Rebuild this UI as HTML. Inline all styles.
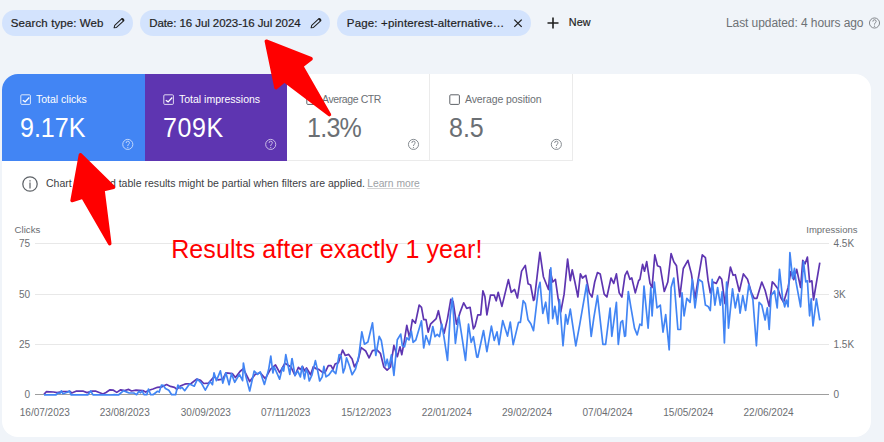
<!DOCTYPE html>
<html><head><meta charset="utf-8">
<style>
*{margin:0;padding:0;box-sizing:border-box}
html,body{width:884px;height:442px;overflow:hidden;background:#f0f4f9;font-family:"Liberation Sans",sans-serif;position:relative}
.t{position:absolute;white-space:nowrap;line-height:1}
.chip{position:absolute;top:10px;height:26px;border-radius:13px;background:#d3e3fd}
.card{position:absolute;left:1.5px;top:73.5px;width:869.5px;height:363.5px;background:#fff;border-radius:16px;overflow:hidden}
.tile{position:absolute;top:0;height:87.5px}
.cb{position:absolute;width:10px;height:10px;border:1px solid;border-radius:1.5px}
.val{position:absolute;font-size:27.5px;transform:scaleX(0.91);transform-origin:0 0;line-height:1;white-space:nowrap}
.lab{position:absolute;font-size:10.5px;line-height:1;white-space:nowrap}
.help{position:absolute;width:12px;height:12px}
.axl{position:absolute;font-size:10px;line-height:1;color:#6b6e72;white-space:nowrap}
</style></head><body>

<!-- chips -->
<div class="chip" style="left:2px;width:131px"></div>
<div class="t" style="left:10.8px;top:18px;font-size:11.5px;color:#1f1f1f;letter-spacing:0.1px;-webkit-text-stroke:0.2px #1f1f1f">Search type: Web</div>
<svg style="position:absolute;left:108px;top:12px" width="22" height="22" viewBox="0 0 22 22"><path d="M6.1 15.8 L6.7 13.4 L13.9 6.6 L15.9 8.7 L8.5 15.4 Z" fill="none" stroke="#1f1f1f" stroke-width="1.05" stroke-linejoin="round"/><path d="M13.3 7.2 L14.2 6.3 Q14.8 5.9 15.4 6.4 L16.1 7.2 Q16.5 7.8 16 8.4 L15.1 9.3 Z" fill="#1f1f1f"/></svg>

<div class="chip" style="left:140px;width:190px"></div>
<div class="t" style="left:149.2px;top:18px;font-size:11.5px;color:#1f1f1f;letter-spacing:-0.07px;-webkit-text-stroke:0.2px #1f1f1f">Date: 16 Jul 2023-16 Jul 2024</div>
<svg style="position:absolute;left:305px;top:12px" width="22" height="22" viewBox="0 0 22 22"><path d="M6.1 15.8 L6.7 13.4 L13.9 6.6 L15.9 8.7 L8.5 15.4 Z" fill="none" stroke="#1f1f1f" stroke-width="1.05" stroke-linejoin="round"/><path d="M13.3 7.2 L14.2 6.3 Q14.8 5.9 15.4 6.4 L16.1 7.2 Q16.5 7.8 16 8.4 L15.1 9.3 Z" fill="#1f1f1f"/></svg>

<div class="chip" style="left:337px;width:194px"></div>
<div class="t" style="left:346.8px;top:18px;font-size:11.5px;color:#1f1f1f;letter-spacing:0.18px;-webkit-text-stroke:0.2px #1f1f1f">Page: +pinterest-alternative…</div>
<svg style="position:absolute;left:507px;top:12px" width="22" height="22" viewBox="0 0 22 22"><path d="M7.3 7.6 L14.7 14.9 M14.7 7.6 L7.3 14.9" stroke="#1f1f1f" stroke-width="1.3"/></svg>

<svg style="position:absolute;left:547px;top:17px" width="12" height="12" viewBox="0 0 12 12"><path d="M6 0.5 V11.5 M0.5 6 H11.5" stroke="#1f1f1f" stroke-width="1.6"/></svg>
<div class="t" style="left:568.7px;top:17px;font-size:10.8px;color:#1f1f1f;-webkit-text-stroke:0.2px #1f1f1f;letter-spacing:0.15px">New</div>

<div class="t" style="left:726px;top:17px;font-size:12px;color:#6d7175;letter-spacing:-0.08px">Last updated: 4 hours ago</div>
<svg style="position:absolute;left:867px;top:16px" width="14" height="14" opacity="1"><g transform="translate(1.50 1.00)"><circle cx="6" cy="6" r="5.05" fill="none" stroke="#7d8186" stroke-width="0.95"/><path d="M4.35 4.6 Q4.35 2.75 6 2.75 Q7.65 2.75 7.65 4.4 Q7.65 5.35 6.65 5.95 Q6 6.35 6 7.6" fill="none" stroke="#7d8186" stroke-width="0.95"/><circle cx="6" cy="9.15" r="0.62" fill="#7d8186"/></g></svg>

<!-- card -->
<div class="card">
  <div class="tile" style="left:0;width:143px;background:#4285f4"></div>
  <div class="tile" style="left:143px;width:142px;background:#5e35b1"></div>
  <div class="tile" style="left:285px;width:143px;border-right:1px solid #ebebeb;border-bottom:1px solid #ebebeb"></div>
  <div class="tile" style="left:428px;width:143px;border-right:1px solid #ebebeb;border-bottom:1px solid #ebebeb"></div>
</div>

<!-- tile contents (page coords) -->
<svg style="position:absolute;left:20px;top:94px" width="12" height="12" viewBox="0 0 12 12"><rect x="0.8" y="0.8" width="9.6" height="9.6" rx="1" fill="none" stroke="#fff" stroke-width="1" opacity="0.8"/><path d="M2.8 6.3 L5.1 7.9 L9.3 3.5" fill="none" stroke="#fff" stroke-width="1.3"/></svg>
<div class="lab" style="left:36px;top:93.5px;color:#fff">Total clicks</div>
<div class="val" style="left:20px;top:113.5px;color:#fff">9.17K</div>

<svg style="position:absolute;left:163px;top:94px" width="12" height="12" viewBox="0 0 12 12"><rect x="0.8" y="0.8" width="9.6" height="9.6" rx="1" fill="none" stroke="#fff" stroke-width="1" opacity="0.8"/><path d="M2.8 6.3 L5.1 7.9 L9.3 3.5" fill="none" stroke="#fff" stroke-width="1.3"/></svg>
<div class="lab" style="left:179px;top:93.5px;color:#fff">Total impressions</div>
<div class="val" style="left:163px;top:113.5px;color:#fff;letter-spacing:0.6px">709K</div>

<svg style="position:absolute;left:306px;top:94px" width="12" height="12" viewBox="0 0 12 12"><rect x="0.8" y="0.8" width="9.6" height="9.6" rx="1" fill="none" stroke="#5f6368" stroke-width="1"/></svg>
<div class="lab" style="left:322px;top:93.5px;color:#6b6f74;letter-spacing:-0.4px">Average CTR</div>
<div class="val" style="left:306.5px;top:113.5px;color:#6b6f74;letter-spacing:-0.8px">1.3%</div>

<svg style="position:absolute;left:449px;top:94px" width="12" height="12" viewBox="0 0 12 12"><rect x="0.8" y="0.8" width="9.6" height="9.6" rx="1" fill="none" stroke="#5f6368" stroke-width="1"/></svg>
<div class="lab" style="left:465px;top:93.5px;color:#6b6f74;letter-spacing:-0.1px">Average position</div>
<div class="val" style="left:449px;top:113.5px;color:#6b6f74">8.5</div>

<svg style="position:absolute;left:120px;top:137px" width="14" height="14" opacity="0.7"><g transform="translate(1.80 1.40)"><circle cx="6" cy="6" r="5.05" fill="none" stroke="#fff" stroke-width="0.95"/><path d="M4.35 4.6 Q4.35 2.75 6 2.75 Q7.65 2.75 7.65 4.4 Q7.65 5.35 6.65 5.95 Q6 6.35 6 7.6" fill="none" stroke="#fff" stroke-width="0.95"/><circle cx="6" cy="9.15" r="0.62" fill="#fff"/></g></svg>
<svg style="position:absolute;left:263px;top:137px" width="14" height="14" opacity="0.7"><g transform="translate(1.70 1.40)"><circle cx="6" cy="6" r="5.05" fill="none" stroke="#fff" stroke-width="0.95"/><path d="M4.35 4.6 Q4.35 2.75 6 2.75 Q7.65 2.75 7.65 4.4 Q7.65 5.35 6.65 5.95 Q6 6.35 6 7.6" fill="none" stroke="#fff" stroke-width="0.95"/><circle cx="6" cy="9.15" r="0.62" fill="#fff"/></g></svg>
<svg style="position:absolute;left:406px;top:137px" width="14" height="14" opacity="1"><g transform="translate(1.50 1.40)"><circle cx="6" cy="6" r="5.05" fill="none" stroke="#80868b" stroke-width="0.95"/><path d="M4.35 4.6 Q4.35 2.75 6 2.75 Q7.65 2.75 7.65 4.4 Q7.65 5.35 6.65 5.95 Q6 6.35 6 7.6" fill="none" stroke="#80868b" stroke-width="0.95"/><circle cx="6" cy="9.15" r="0.62" fill="#80868b"/></g></svg>
<svg style="position:absolute;left:549px;top:137px" width="14" height="14" opacity="1"><g transform="translate(1.35 1.40)"><circle cx="6" cy="6" r="5.05" fill="none" stroke="#80868b" stroke-width="0.95"/><path d="M4.35 4.6 Q4.35 2.75 6 2.75 Q7.65 2.75 7.65 4.4 Q7.65 5.35 6.65 5.95 Q6 6.35 6 7.6" fill="none" stroke="#80868b" stroke-width="0.95"/><circle cx="6" cy="9.15" r="0.62" fill="#80868b"/></g></svg>

<!-- info row -->
<svg style="position:absolute;left:22px;top:175.5px" width="16" height="16" viewBox="0 0 16 16"><circle cx="8" cy="8" r="7.2" fill="none" stroke="#5f6368" stroke-width="1.25"/><rect x="7.4" y="6.5" width="1.2" height="6" fill="#5f6368"/><rect x="7.4" y="4.2" width="1.2" height="1.3" fill="#5f6368"/></svg>
<div class="t" style="left:46px;top:178px;font-size:10.5px;color:#3c4043;letter-spacing:0.02px">Chart data and table results might be partial when filters are applied.</div>
<div class="t" style="left:367.2px;top:178.7px;font-size:10.3px;color:#9da1a5;text-decoration:underline;text-decoration-color:#d2d2d2;text-underline-offset:0.8px">Learn more</div>

<!-- chart axes -->
<div class="axl" style="left:14.5px;top:225px;font-size:9.7px">Clicks</div>
<div class="axl" style="left:0;width:30px;text-align:right;top:238.5px">75</div>
<div class="axl" style="left:0;width:30px;text-align:right;top:289.5px">50</div>
<div class="axl" style="left:0;width:30px;text-align:right;top:339.5px">25</div>
<div class="axl" style="left:0;width:30px;text-align:right;top:389.5px">0</div>
<div class="axl" style="left:779px;width:78.5px;text-align:right;top:225px;font-size:9.5px">Impressions</div>
<div class="axl" style="left:833.5px;top:238.5px">4.5K</div>
<div class="axl" style="left:833.5px;top:289.5px">3K</div>
<div class="axl" style="left:833.5px;top:339.5px">1.5K</div>
<div class="axl" style="left:833.5px;top:389.5px">0</div>
<div style="position:absolute;left:35px;top:243px;width:794px;height:1px;background:#e8e8e8"></div>
<div style="position:absolute;left:35px;top:294px;width:794px;height:1px;background:#e8e8e8"></div>
<div style="position:absolute;left:35px;top:344px;width:794px;height:1px;background:#e8e8e8"></div>
<div style="position:absolute;left:35px;top:394px;width:794px;height:1px;background:#9e9e9e"></div>
<div class="axl" style="left:4.8px;width:80px;text-align:center;top:407.5px">16/07/2023</div>
<div class="axl" style="left:84.7px;width:80px;text-align:center;top:407.5px">23/08/2023</div>
<div class="axl" style="left:165.8px;width:80px;text-align:center;top:407.5px">30/09/2023</div>
<div class="axl" style="left:245.7px;width:80px;text-align:center;top:407.5px">07/11/2023</div>
<div class="axl" style="left:326.2px;width:80px;text-align:center;top:407.5px">15/12/2023</div>
<div class="axl" style="left:406.7px;width:80px;text-align:center;top:407.5px">22/01/2024</div>
<div class="axl" style="left:487.1px;width:80px;text-align:center;top:407.5px">29/02/2024</div>
<div class="axl" style="left:567.6px;width:80px;text-align:center;top:407.5px">07/04/2024</div>
<div class="axl" style="left:648.3px;width:80px;text-align:center;top:407.5px">15/05/2024</div>
<div class="axl" style="left:728.6px;width:80px;text-align:center;top:407.5px">22/06/2024</div>

<!-- CHART -->
<svg style="position:absolute;left:0;top:0" width="884" height="442" viewBox="0 0 884 442">
<path d="M44.0 394.4 L46.3 391.7 L53.6 392.0 L57.0 392.6 L62.6 391.5 L70.0 391.5 L71.7 393.0 L76.0 391.2 L83.4 391.2 L87.0 392.6 L91.6 391.2 L96.0 391.2 L103.0 394.0 L106.0 392.5 L110.0 389.8 L113.4 390.2 L116.8 392.4 L120.7 389.8 L124.7 390.5 L128.7 389.4 L131.5 391.0 L136.0 390.2 L142.8 390.5 L145.6 392.1 L149.0 390.2 L153.0 389.0 L157.5 387.3 L162.0 386.8 L166.6 384.5 L170.5 386.4 L174.5 387.3 L176.8 389.4 L180.2 386.0 L184.7 384.2 L186.3 383.9 L191.1 383.5 L196.6 379.1 L200.6 380.4 L203.8 383.5 L208.5 383.1 L214.0 376.7 L218.0 379.9 L222.8 379.1 L225.9 372.8 L232.3 373.6 L235.4 377.5 L240.2 371.2 L243.4 368.8 L249.7 381.5 L250.0 381.1 L255.1 374.4 L260.2 372.7 L265.3 378.6 L270.4 369.3 L275.5 365.0 L279.7 372.7 L284.8 363.3 L290.8 366.7 L295.0 375.5 L298.4 367.4 L300.4 369.4 L302.5 366.4 L304.5 370.8 L306.5 368.0 L310.6 374.8 L313.3 366.7 L316.1 368.7 L318.8 369.4 L322.2 372.1 L324.9 372.8 L328.3 365.6 L331.0 365.6 L333.0 369.4 L335.1 364.0 L338.5 362.6 L342.6 350.1 L345.3 355.5 L348.7 354.4 L352.1 358.9 L354.4 366.8 L357.8 361.2 L361.2 347.6 L365.7 351.0 L369.1 357.8 L372.5 350.6 L377.0 349.9 L380.4 353.3 L383.8 366.8 L387.1 370.2 L390.5 366.8 L393.9 345.4 L397.3 356.7 L400.0 346.8 L401.8 354.7 L404.1 342.3 L406.8 325.4 L409.5 337.8 L412.4 319.7 L415.4 323.1 L419.2 305.0 L421.5 307.3 L423.7 319.7 L426.0 319.7 L428.2 332.1 L430.5 324.2 L436.2 318.6 L438.4 310.7 L441.8 326.5 L444.1 333.3 L447.5 318.6 L450.8 299.4 L453.1 301.6 L456.5 324.2 L459.9 312.9 L463.7 302.8 L466.7 308.4 L470.1 307.3 L473.4 328.8 L475.0 326.2 L477.8 314.9 L480.7 314.9 L482.9 290.9 L484.9 296.5 L486.9 314.9 L490.5 295.1 L494.2 295.1 L496.2 300.8 L498.2 292.3 L501.9 306.4 L508.4 279.6 L511.2 292.3 L514.6 289.5 L517.4 298.0 L521.6 271.1 L525.3 265.4 L528.1 283.8 L530.6 285.0 L533.5 300.5 L534.4 299.4 L539.9 252.3 L543.4 276.7 L548.5 289.5 L550.0 269.8 L552.7 282.0 L555.4 279.3 L558.1 298.3 L560.8 311.9 L564.1 294.2 L567.6 259.0 L570.3 280.7 L572.2 269.8 L574.9 282.0 L577.9 297.0 L580.4 273.9 L582.5 278.0 L585.8 275.3 L589.3 292.9 L592.0 297.0 L594.7 282.0 L597.5 272.5 L600.2 273.9 L604.2 294.2 L606.9 297.0 L611.0 278.0 L613.7 283.4 L616.4 273.9 L619.2 292.9 L621.9 297.0 L625.0 275.3 L627.2 271.2 L629.9 279.3 L631.8 278.0 L635.3 292.9 L638.6 280.7 L639.9 279.3 L642.6 264.4 L644.5 271.2 L646.7 261.7 L650.0 283.4 L652.1 287.5 L654.8 254.9 L657.5 265.8 L660.3 267.1 L664.3 291.5 L667.8 282.0 L671.1 253.6 L673.8 261.7 L676.5 265.8 L679.8 297.0 L683.3 268.5 L687.9 260.3 L691.4 273.9 L695.0 298.3 L698.8 275.3 L702.3 254.9 L705.4 257.6 L708.1 280.7 L710.3 292.9 L713.0 282.0 L716.3 283.4 L719.5 276.6 L721.7 279.3 L725.0 303.7 L730.4 267.1 L733.1 275.3 L735.3 274.7 L739.3 291.5 L743.4 273.9 L747.5 279.3 L751.5 292.9 L754.2 298.3 L756.9 298.3 L761.8 282.0 L765.1 290.2 L769.2 306.4 L772.3 281.9 L774.5 284.2 L777.9 288.7 L780.9 297.7 L783.6 302.3 L788.1 287.5 L790.8 271.7 L793.8 279.6 L796.7 269.4 L800.6 287.5 L802.8 260.4 L805.1 263.8 L807.4 257.0 L809.6 281.9 L811.9 280.8 L813.5 300.0 L819.8 262.6" fill="none" stroke="#5e35b1" stroke-width="1.7" stroke-linejoin="round"/>
<path d="M44.0 394.8 L56.0 394.8 L58.0 393.0 L60.0 393.5 L61.3 390.8 L63.0 393.8 L68.0 392.0 L69.4 390.8 L71.0 394.8 L88.0 394.8 L90.7 390.8 L93.0 394.8 L106.0 394.8 L110.0 395.0 L114.5 394.7 L118.5 395.0 L123.6 390.7 L127.0 392.1 L129.2 393.0 L133.8 393.0 L136.6 394.7 L138.9 391.3 L140.6 392.8 L142.2 391.0 L144.0 394.7 L146.8 394.7 L148.5 389.0 L150.7 394.7 L153.0 394.7 L157.5 391.3 L159.2 392.1 L161.5 385.1 L163.2 385.3 L165.4 388.5 L168.8 390.2 L171.7 394.7 L175.6 394.7 L177.9 385.1 L180.2 388.5 L181.9 387.3 L184.7 390.7 L189.5 383.9 L194.3 386.2 L197.4 379.1 L201.4 383.1 L205.3 390.2 L210.1 381.5 L212.5 384.7 L214.0 372.8 L216.4 380.7 L220.4 370.9 L222.8 383.1 L225.9 372.8 L229.1 384.7 L231.5 373.6 L234.7 382.3 L239.4 374.4 L242.6 380.7 L243.4 363.0 L245.7 375.9 L249.7 391.0 L254.2 371.0 L257.6 374.4 L260.2 371.8 L264.4 384.5 L268.7 369.3 L270.8 356.1 L272.9 373.0 L274.2 366.9 L279.6 379.2 L282.4 367.6 L283.7 371.0 L285.8 354.7 L289.8 374.4 L291.9 358.8 L292.1 358.7 L295.0 375.5 L297.7 370.8 L300.4 376.9 L302.1 366.4 L304.5 378.9 L306.1 369.1 L307.9 373.5 L309.3 381.0 L312.0 374.8 L315.4 360.6 L317.4 369.4 L319.7 381.0 L322.2 376.9 L323.9 366.4 L326.0 376.9 L329.0 374.8 L332.4 370.1 L335.8 373.7 L339.2 354.5 L341.2 356.5 L343.2 372.8 L344.9 368.0 L346.5 357.8 L349.4 365.7 L352.1 374.7 L355.5 369.1 L358.9 355.5 L361.8 331.8 L364.5 344.2 L367.9 342.0 L372.5 322.8 L375.8 355.5 L379.2 336.3 L381.3 340.5 L385.5 365.9 L387.2 359.2 L388.9 367.6 L391.4 354.9 L393.9 375.4 L397.3 339.7 L400.7 334.1 L402.3 345.7 L404.5 346.8 L406.8 337.8 L409.0 340.0 L411.3 331.0 L413.1 342.3 L415.8 340.0 L421.5 320.8 L423.7 348.0 L426.0 335.5 L429.4 344.6 L432.8 326.5 L435.0 336.7 L437.3 334.4 L439.5 336.7 L441.8 324.2 L444.1 337.8 L447.5 360.4 L450.2 315.2 L452.4 298.2 L455.4 343.4 L458.8 316.3 L462.1 337.8 L465.5 360.4 L468.5 324.2 L471.2 342.3 L473.4 336.7 L476.8 357.0 L477.8 357.3 L483.5 330.5 L486.9 351.7 L491.4 326.2 L494.2 340.4 L497.0 331.9 L499.0 344.6 L502.7 320.6 L507.5 336.1 L510.3 322.0 L513.2 344.6 L518.5 322.4 L520.4 322.4 L523.2 300.7 L525.3 303.4 L528.0 319.7 L530.8 323.8 L533.5 330.6 L538.4 288.5 L540.0 282.4 L542.8 313.5 L545.7 302.2 L548.5 323.4 L550.8 267.9 L552.7 318.6 L554.9 306.4 L557.6 324.1 L559.5 299.7 L563.0 345.8 L565.7 314.6 L567.6 324.1 L570.3 309.2 L575.8 345.8 L579.8 324.1 L586.6 284.7 L591.2 336.3 L593.9 317.3 L597.5 295.6 L602.9 344.4 L605.6 344.4 L610.1 308.0 L611.8 336.3 L616.4 302.4 L618.3 344.4 L620.8 322.4 L622.6 320.6 L624.6 336.3 L625.5 336.0 L628.3 291.5 L631.0 307.8 L634.5 328.1 L637.2 334.9 L639.9 324.1 L641.8 325.4 L644.0 286.1 L648.1 328.1 L650.8 287.5 L652.1 315.9 L654.3 282.0 L657.0 307.8 L660.3 305.1 L663.0 332.2 L665.7 314.6 L669.2 349.8 L671.1 287.5 L673.8 278.0 L677.9 329.5 L680.6 329.5 L682.0 292.9 L684.1 315.9 L686.8 298.3 L690.1 302.4 L692.3 279.3 L695.0 307.8 L698.8 279.3 L702.3 282.0 L705.4 305.1 L708.1 306.4 L710.3 310.5 L712.2 279.3 L714.9 305.1 L717.6 287.5 L720.3 305.1 L722.2 291.5 L724.4 343.0 L726.6 282.0 L728.5 328.1 L732.5 288.8 L735.3 307.8 L738.0 294.2 L740.1 313.2 L742.8 295.6 L745.6 310.5 L748.8 284.7 L752.9 299.7 L756.4 345.8 L759.1 302.4 L761.8 305.1 L765.1 320.0 L767.3 307.8 L769.2 329.5 L771.1 295.5 L774.5 290.9 L777.2 307.9 L779.5 269.4 L782.5 297.7 L784.7 306.8 L786.3 300.0 L788.1 306.8 L789.9 252.5 L792.6 278.5 L794.5 268.3 L796.0 281.9 L800.6 306.8 L803.5 261.5 L805.8 281.9 L807.4 280.8 L809.6 315.8 L811.2 298.9 L813.0 326.0 L816.4 298.9 L819.8 320.4" fill="none" stroke="#4285f4" stroke-width="1.7" stroke-linejoin="round"/>
</svg>

<!-- annotations -->
<div class="t" style="left:171.2px;top:237.2px;font-size:25px;color:#ff0000;letter-spacing:0.1px">Results after exactly 1 year!</div>
<svg style="position:absolute;left:0;top:0" width="884" height="442" viewBox="0 0 884 442">
<path d="M266.36 41.18 L311.02 58.79 L301.63 66.07 L329.41 114.55 L284.38 80.60 L276.03 87.52 Z" fill="#ff0000" stroke="#ff0000" stroke-width="3.60" stroke-linejoin="round"/>
<path d="M80.45 154.82 L113.55 187.17 L102.90 189.80 L109.72 243.59 L82.87 197.13 L72.12 200.48 Z" fill="#ff0000" stroke="#ff0000" stroke-width="3.60" stroke-linejoin="round"/>
</svg>

</body></html>
